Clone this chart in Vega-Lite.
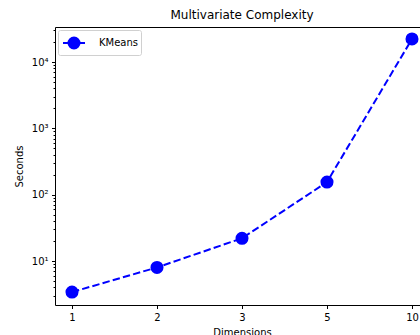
{
  "$schema": "https://vega.github.io/schema/vega-lite/v6.json",
  "width": 374,
  "height": 278,
  "autosize": {"type": "none"},
  "padding": {"left": 55, "top": 27, "right": 0, "bottom": 30},
  "background": "#ffffff",
  "title": {"text": "Multivariate Complexity", "font": "DejaVu Sans", "fontSize": 12, "fontWeight": "normal", "color": "#000000", "offset": 5},
  "data": {"values": [
    {"dim": "1", "seconds": 3.4, "series": "KMeans"},
    {"dim": "2", "seconds": 8.0, "series": "KMeans"},
    {"dim": "3", "seconds": 22, "series": "KMeans"},
    {"dim": "5", "seconds": 155, "series": "KMeans"},
    {"dim": "10", "seconds": 22300, "series": "KMeans"}
  ]},
  "config": {
    "view": {"stroke": "#000000", "strokeWidth": 1},
    "axis": {"grid": false, "domain": false, "tickColor": "#000000", "labelColor": "#000000", "titleColor": "#000000", "labelFont": "DejaVu Sans", "titleFont": "DejaVu Sans", "labelFontSize": 10, "titleFontSize": 10, "titleFontWeight": "normal", "tickSize": 3.5, "labelPadding": 3.5},
    "legend": {"labelFont": "DejaVu Sans", "labelFontSize": 10, "labelColor": "#000000"}
  },
  "layer": [
    {
      "mark": {"type": "line", "color": "#0000ff", "strokeWidth": 2, "strokeDash": [7.4, 3.2]},
      "encoding": {
        "x": {"field": "dim", "type": "ordinal", "sort": ["1", "2", "3", "5", "10"], "scale": {"type": "point", "padding": 0.2},
              "axis": {"title": "Dimensions", "labelAngle": 0, "titlePadding": 5}},
        "y": {"field": "seconds", "type": "quantitative", "scale": {"type": "log", "domain": [2.17, 33800], "nice": false},
              "axis": {"title": "Seconds", "orient": "left", "values": [10, 100, 1000, 10000], "titlePadding": 7,
                       "labelExpr": "datum.value == 10 ? '10¹' : datum.value == 100 ? '10²' : datum.value == 1000 ? '10³' : '10⁴'"}}
      }
    },
    {
      "mark": {"type": "point", "filled": true, "size": 170, "opacity": 1},
      "encoding": {
        "x": {"field": "dim", "type": "ordinal", "sort": ["1", "2", "3", "5", "10"]},
        "y": {"field": "seconds", "type": "quantitative",
              "axis": {"title": null, "orient": "left", "labels": false, "tickSize": 2,
                       "values": [3,4,5,6,7,8,9,20,30,40,50,60,70,80,90,200,300,400,500,600,700,800,900,2000,3000,4000,5000,6000,7000,8000,9000,20000,30000]}},
        "color": {"field": "series", "type": "nominal", "scale": {"range": ["#0000ff"]},
                  "legend": {"title": null, "orient": "top-left", "offset": 3, "strokeColor": "#d0d0d0", "cornerRadius": 2, "padding": 2, "fillColor": "#ffffff",
                             "symbolType": "M-0.8,0L-0.25,0M0.85,0L1.4,0M-0.25,0A0.55,0.55 0 1,0 0.85,0A0.55,0.55 0 1,0 -0.25,0Z",
                             "symbolSize": 400, "symbolStrokeWidth": 2, "symbolFillColor": "#0000ff", "symbolStrokeColor": "#0000ff", "labelOffset": 17}}
      }
    }
  ],
  "resolve": {"axis": {"y": "independent"}}
}
